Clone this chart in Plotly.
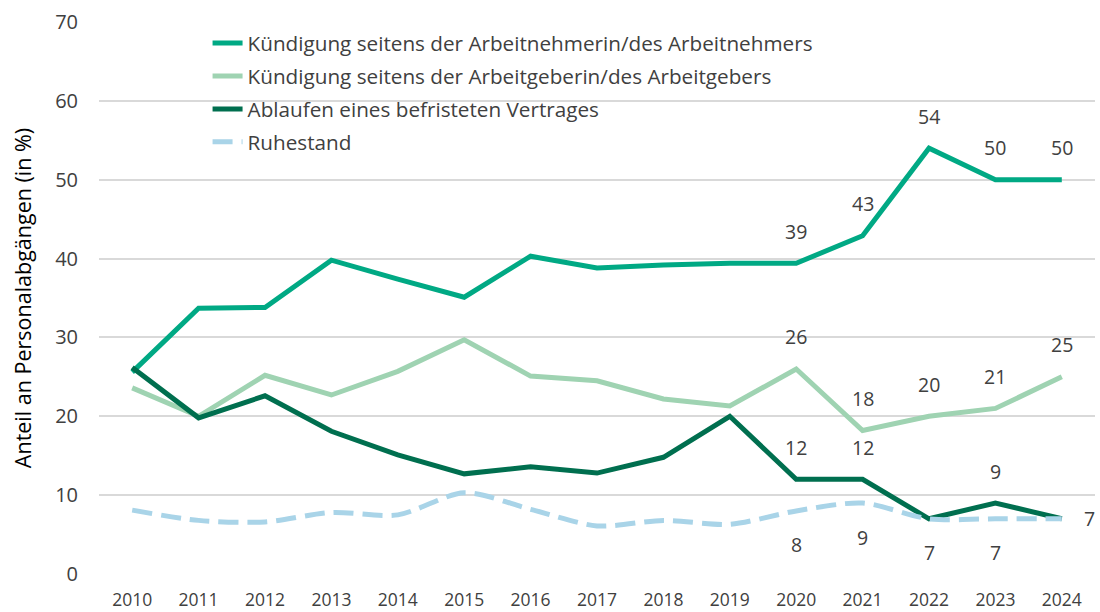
import plotly.graph_objects as go

years = [str(y) for y in range(2010, 2025)]

kuendigung_an = [25.6, 33.7, 33.8, 39.8, 37.4, 35.1, 40.3, 38.8, 39.2, 39.4, 39.4, 42.9, 54.0, 50.0, 50.0]
kuendigung_ag = [23.6, 20.0, 25.2, 22.7, 25.7, 29.7, 25.1, 24.5, 22.2, 21.3, 26.0, 18.2, 20.0, 21.0, 25.0]
ablaufen = [26.2, 19.8, 22.6, 18.1, 15.1, 12.7, 13.6, 12.8, 14.8, 20.0, 12.0, 12.0, 7.0, 9.0, 7.0]
ruhestand = [8.1, 6.8, 6.6, 7.8, 7.5, 10.3, 8.2, 6.1, 6.8, 6.3, 8.0, 9.0, 7.0, 7.0, 7.0]

names = [
    "Kündigung seitens der Arbeitnehmerin/des Arbeitnehmers",
    "Kündigung seitens der Arbeitgeberin/des Arbeitgebers",
    "Ablaufen eines befristeten Vertrages",
    "Ruhestand",
]

label_years_an = ["2020", "2021", "2022", "2023", "2024"]
label_years_ag = ["2020", "2021", "2022", "2023", "2024"]
label_years_ab_above = ["2020", "2021", "2023"]
label_years_ab_right = ["2024"]
label_years_ru_below = ["2020", "2021", "2022", "2023"]

c_an = "#00A984"
c_ag = "#9FD3B2"
c_ab = "#006F4F"
c_ru = "#A9D4E8"
txt = "#404040"
FONT = "Open Sans"

fig = go.Figure()
fig.add_trace(go.Scatter(x=years, y=kuendigung_an, name=names[0], mode="lines",
                         line=dict(color=c_an, width=5), legendgroup="a"))
fig.add_trace(go.Scatter(x=years, y=kuendigung_ag, name=names[1], mode="lines",
                         line=dict(color=c_ag, width=5), legendgroup="b"))
fig.add_trace(go.Scatter(x=years, y=ablaufen, name=names[2], mode="lines",
                         line=dict(color=c_ab, width=5), legendgroup="c"))
fig.add_trace(go.Scatter(x=years, y=ruhestand, name=names[3], mode="lines",
                         line=dict(color=c_ru, width=5, dash="20px,9px", shape="spline", smoothing=0.8),
                         legendgroup="d"))

def lab(series, yrs, yshift=0, xshift=0):
    for yr in yrs:
        i = years.index(yr)
        v = series[i]
        fig.add_annotation(x=i, y=v, xref="x", yref="y", text=f"{v:.0f}", showarrow=False,
                           yshift=yshift, xshift=xshift,
                           font=dict(family=FONT, size=19.5, color=txt))

lab(kuendigung_an, label_years_an, yshift=32)
lab(kuendigung_ag, label_years_ag, yshift=32)
lab(ablaufen, label_years_ab_above, yshift=32)
lab(ablaufen, label_years_ab_right, xshift=28)
lab(ruhestand, label_years_ru_below, yshift=-34)

fig.update_layout(
    width=1100, height=612,
    margin=dict(l=99, r=5, t=22, b=38),
    paper_bgcolor="white", plot_bgcolor="white",
    font=dict(family=FONT, size=18, color=txt),
    legend=dict(x=0.109, y=0.998, xanchor="left", yanchor="top",
                bgcolor="rgba(0,0,0,0)", tracegroupgap=3,
                font=dict(family=FONT, size=20.7, color=txt)),
    showlegend=True,
)
fig.update_xaxes(type="category", range=[-0.5, 14.5], showgrid=False, zeroline=False,
                 showline=False, ticks="outside", ticklen=10, tickcolor="rgba(0,0,0,0)",
                 automargin=False,
                 tickfont=dict(family=FONT, size=17.5, color=txt))
fig.update_yaxes(range=[0, 70], dtick=10, showgrid=True, gridcolor="#D9D9D9", gridwidth=2,
                 zeroline=False, showline=False, ticks="outside", ticklen=16,
                 tickcolor="rgba(0,0,0,0)", automargin=False,
                 tickfont=dict(family=FONT, size=20, color=txt),
                 title=dict(text="Anteil an Personalabgängen (in %)", standoff=17,
                            font=dict(family=FONT, size=21.5, color="#000000")))

fig.write_html("out.html", config={"displayModeBar": False},
               post_script="document.body.style.margin='0';document.body.style.overflow='hidden';")
